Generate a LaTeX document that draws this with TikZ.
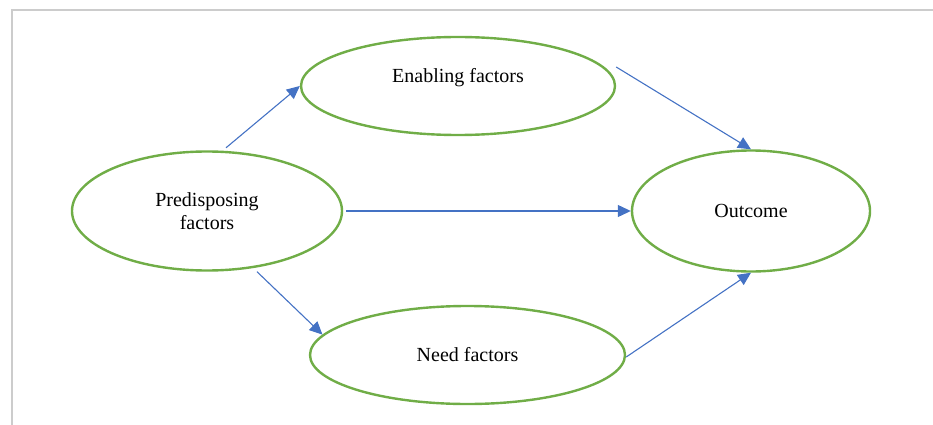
\documentclass[tikz,border=0pt]{standalone}
\usepackage{fontspec}
\setmainfont{Liberation Serif}
\usetikzlibrary{arrows.meta,shapes.geometric}
\definecolor{ogreen}{RGB}{112,173,71}
\definecolor{oblue}{RGB}{68,114,196}
\definecolor{fgray}{RGB}{204,204,204}
\begin{document}
\begin{tikzpicture}[x=1pt,y=-1pt,
  oval/.style={ellipse,draw=ogreen,line width=2.4pt,inner sep=0pt,align=center,
    font=\fontsize{20}{23}\selectfont},
  link/.style={draw=oblue,line width=1.1pt,-{Triangle[length=13pt,width=12pt]}}]
\useasboundingbox (0,0) rectangle (933,425);
\draw[fgray,line width=2.2pt] (933,10) -- (12,10) -- (12,425);
\node[oval,minimum width=314pt,minimum height=98pt] (enab) at (458,86) {\raisebox{3pt}[0pt][0pt]{Enabling factors}};
\node[oval,minimum width=270pt,minimum height=119pt] (pred) at (207,211) {Predisposing\\factors};
\node[oval,minimum width=238pt,minimum height=121pt] (outc) at (751,211) {Outcome};
\node[oval,minimum width=315pt,minimum height=98pt] (need) at (467.5,355) {Need factors};
\draw[link] ([xshift=19pt,yshift=2.5pt]pred.north) -- (enab.west);
\draw[link] ([yshift=19pt]enab.east) -- (outc.north);
\draw[link] ([xshift=3pt]pred.east) -- (outc.west);
\draw[link] ([xshift=50pt]pred.south) -- (need.172);
\draw[link] ([yshift=-2pt]need.east) -- (outc.south);
\end{tikzpicture}
\end{document}
